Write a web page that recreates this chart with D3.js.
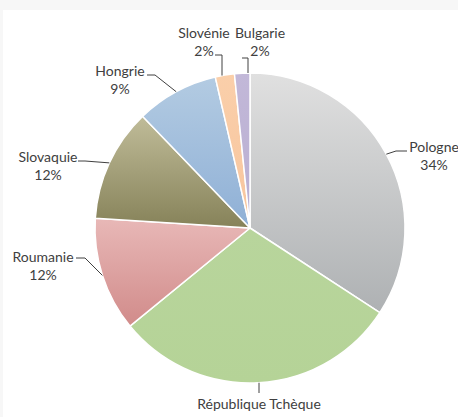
<!DOCTYPE html>
<html>
<head>
<meta charset="utf-8">
<script src="https://d3js.org/d3.v7.min.js"></script>
<style>
  body { margin: 0; background: #f7f7f7; }
  #chart { position: absolute; left: 0; top: 0; }
</style>
</head>
<body>
<div id="chart"></div>
<script>
(function(){
  var width = 458, height = 417;

  // data (share of total, %)
  var countries = ["Pologne", "République Tchèque", "Roumanie", "Slovaquie", "Hongrie", "Slovénie", "Bulgarie"];
  var shares    = [34.2, 29.9, 11.9, 11.8, 8.6, 2.0, 1.6];
  var pctLabels = ["34%", "29%", "12%", "12%", "9%", "2%", "2%"];

  // fill gradients (top colour, bottom colour)
  var topColors    = ["#e0e0e0", "#b8d59c", "#e8b8b7", "#c0bc99", "#b3cbe2", "#facfaa", "#c2b8d8"];
  var bottomColors = ["#aeb1b3", "#b5d397", "#d18b8a", "#868259", "#8fb0d6", "#f7c59e", "#b9aed2"];

  // label baseline positions relative to the pie centre, and leader elbows/ends
  var labelAt = [[184, -76], [9, 181], [-207, 34], [-202, -66], [-130, -152], [-46, -190], [10, -190]];
  var elbowAt = [[146, -77], [9, 156], [-165, 30], [-165, -67], [-95, -153], [-28, -173], [-2, -170]];
  var endAt   = [[157, -77], [9, 165], [-174, 30], [-172, -67], [-103, -153], [-35, -173], [-8, -170]];

  var cx = 250, cy = 228, r = 155;

  var svg = d3.select("#chart").append("svg")
    .attr("width", width)
    .attr("height", height);

  // plot area background (light frame shadow at top/left)
  svg.append("rect")
    .attr("x", 3).attr("y", 10)
    .attr("width", width).attr("height", height)
    .attr("fill", "white");

  var defs = svg.append("defs");
  countries.forEach(function(c, i) {
    var g = defs.append("linearGradient")
      .attr("id", "grad" + i)
      .attr("x1", 0).attr("y1", 0).attr("x2", 0).attr("y2", 1);
    g.append("stop").attr("offset", "0%").attr("stop-color", topColors[i]);
    g.append("stop").attr("offset", "100%").attr("stop-color", bottomColors[i]);
  });

  var data = countries.map(function(c, i) {
    return {name: c, value: shares[i], pct: pctLabels[i], i: i};
  });

  var pie = d3.pie().sort(null).value(function(d) { return d.value; });
  var arc = d3.arc().innerRadius(0).outerRadius(r);
  var edge = d3.arc().innerRadius(r).outerRadius(r);

  var g = svg.append("g").attr("transform", "translate(" + cx + "," + cy + ")");

  var arcs = pie(data);

  g.selectAll("path.slice")
    .data(arcs)
    .enter().append("path")
    .attr("class", "slice")
    .attr("d", arc)
    .attr("fill", function(d) { return "url(#grad" + d.data.i + ")"; })
    .attr("stroke", "white")
    .attr("stroke-width", 1.5)
    .attr("stroke-linejoin", "round");

  // leader lines
  g.selectAll("polyline.leader")
    .data(arcs)
    .enter().append("polyline")
    .attr("class", "leader")
    .attr("fill", "none")
    .attr("stroke", "#404040")
    .attr("stroke-width", 1)
    .attr("points", function(d) {
      var i = d.data.i;
      var p = edge.centroid(d);
      var e = elbowAt[i];
      // small slices: the line drops straight onto the rim
      if (i === 5 || i === 6 || i === 1) {
        p = [e[0], (i === 1 ? 1 : -1) * Math.sqrt(r * r - e[0] * e[0])];
      }
      return [p, e, endAt[i]].map(function(q) { return q.join(","); }).join(" ");
    });

  var labels = g.selectAll("text.lbl")
    .data(arcs)
    .enter().append("text")
    .attr("class", "lbl")
    .attr("text-anchor", "middle")
    .attr("font-family", "Lato, 'Open Sans', sans-serif")
    .attr("font-size", "14px")
    .attr("fill", "#404040")
    .attr("transform", function(d) {
      var l = labelAt[d.data.i];
      return "translate(" + l[0] + "," + l[1] + ")";
    });

  labels.append("tspan")
    .attr("x", 0).attr("y", 0)
    .text(function(d) { return d.data.name; });
  // the percentage line only where it still fits inside the frame
  labels.filter(function(d) { return cy + labelAt[d.data.i][1] + 18 < height; })
    .append("tspan")
    .attr("x", 0).attr("y", 18)
    .text(function(d) { return d.data.pct; });
})();
</script>
</body>
</html>
